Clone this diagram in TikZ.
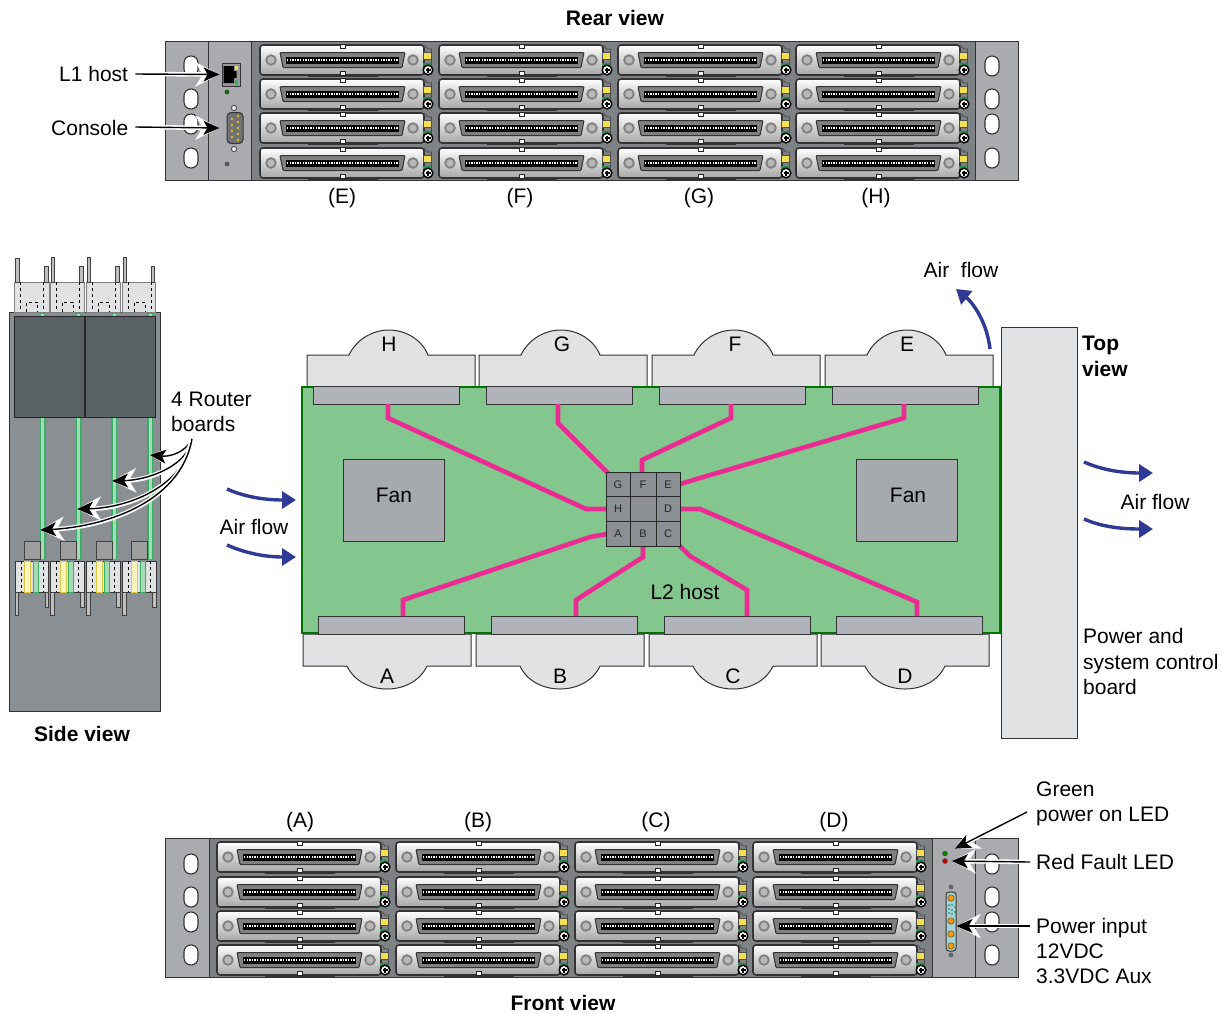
\documentclass[tikz,border=0pt]{standalone}
\usepackage{fontspec}
\setmainfont{Liberation Sans}
\usetikzlibrary{arrows.meta}
\definecolor{ear}{HTML}{A9ABAE}
\definecolor{midg}{HTML}{7F8285}
\definecolor{edge}{HTML}{333333}
\definecolor{cardg}{HTML}{E1E2E4}
\definecolor{stripg}{HTML}{A7AAAD}
\definecolor{stript}{HTML}{B0B3BA}
\definecolor{boardg}{HTML}{83C78F}
\definecolor{pinkt}{HTML}{EC2A94}
\definecolor{bluea}{HTML}{2F3A96}
\definecolor{darkb}{HTML}{5A6164}
\definecolor{sideg}{HTML}{8A8F94}
\definecolor{greenb}{HTML}{35B066}
\definecolor{lgreen}{HTML}{A9D9B5}
\definecolor{yel}{HTML}{F4E04D}
\tikzset{
  lab/.style={inner sep=0pt,font=\fontsize{21}{25.3}\selectfont},
  bold/.style={lab,font=\fontsize{21}{25.3}\selectfont\bfseries},
  chiplab/.style={inner sep=0pt,text=black!85,font=\fontsize{11}{13}\selectfont},
  wire/.style={draw=pinkt,line width=4.6pt,line join=miter},
  halo/.style={line width=1.4pt,-{Stealth[length=16pt,width=14pt,inset=4pt]},
    preaction={draw=white,line width=4.5pt,-{Stealth[length=24pt,width=24pt,inset=7pt]}}},
  flow/.style={draw=bluea,line width=3.4pt,-{Stealth[length=14pt,width=17pt,inset=0pt]}},
  ln/.style={draw=edge,line width=1pt},
  cardbox/.style={draw=edge,line width=1pt,fill=cardg},
}
\newcommand{\earslot}[2]{\draw[edge,line width=1.1pt,fill=white,rounded corners=6.8pt] (#1-7,#2-10) rectangle (#1+7,#2+10);}
\newcommand{\ioslot}[2]{%
\begin{scope}[shift={(#1,#2)}]
\fill[black!80] (48,-1.5) rectangle (118,1.5);
\fill[black!80] (48,28.5) rectangle (118,31.5);
\draw[edge,line width=1.6pt,rounded corners=3pt,top color=white,bottom color=black!35] (0,0) rectangle (164,30);
\fill[white,draw=black!85,line width=.6pt] (80,-.5) rectangle (85,3);
\fill[white,draw=black!85,line width=.6pt] (80,26) rectangle (85,30.5);
\draw[black!50,fill=black!28,line width=1.8pt] (11,15) circle (4.8);
\draw[black!50,fill=black!28,line width=1.8pt] (153,15) circle (4.8);
\draw[edge,fill=black!50,line width=1pt,rounded corners=1pt] (20,7.5) -- (145,7.5) -- (142,22.5) -- (23,22.5) -- cycle;
\fill[black] (26,11.5) rectangle (139,18.5);
\draw[white,line width=1.5pt,dash pattern=on 1.3pt off 1.3pt] (27,15) -- (138,15);
\fill[yel,draw=black!70,line width=.6pt] (163,7.5) rectangle (171,14.5);
\fill[greenb!80!black] (163,18) rectangle (171,20.5);
\draw[black!70,line width=.8pt] (164,0) -- (168,4) -- (171.5,4) -- (171.5,20);
\draw[black,fill=white,line width=1.5pt] (168,25) circle (4.8);
\draw[black,line width=1.2pt] (165.5,25) -- (170.5,25) (168,22.5) -- (168,27.5);
\end{scope}}
\newcommand{\topcard}[1]{\draw[cardbox] (#1,387) -- (#1,355) -- (#1+42,355) .. controls (#1+49,340) and (#1+65,330) .. (#1+82,330) .. controls (#1+99,330) and (#1+115,340) .. (#1+121,355) -- (#1+168,355) -- (#1+168,387) -- cycle;}
\newcommand{\botcard}[1]{\draw[cardbox] (#1,634) -- (#1,666) -- (#1+44,666) .. controls (#1+51,681) and (#1+67,689) .. (#1+84,689) .. controls (#1+101,689) and (#1+117,681) .. (#1+124,666) -- (#1+168,666) -- (#1+168,634) -- cycle;}
\newcommand{\sidetop}[4]{%
\fill[cardg,draw=black!50,line width=.4pt] (#1,282) rectangle (#1+#2,312);
\draw[black,line width=.6pt,dash pattern=on 3pt off 3pt] (#1+6,282) -- (#1+6,312) (#1+29,282) -- (#1+29,312) (#1+12,312) -- (#1+12,302) -- (#1+23,302) -- (#1+23,312);
\fill[black!25,draw=black!75,line width=.8pt] (#1+1,#3) rectangle (#1+4.5,282);
\fill[black!25,draw=black!75,line width=.8pt] (#1+#2-4.5,#4) rectangle (#1+#2-1,282);}
\newcommand{\sidebot}[4]{%
\fill[black!38,draw=black!75,line width=.6pt] (#2,541) rectangle (#2+16,559);
\fill[cardg,draw=black!80,line width=.6pt] (#1,561) rectangle (#1+33.5,592);
\draw[black,line width=.6pt,dash pattern=on 3pt off 3pt] (#1+6,561) -- (#1+6,592) (#1+28,561) -- (#1+28,592);
\fill[yel!35,draw=yel!90!black,line width=1pt] (#3,561) rectangle (#3+6,592);
\fill[lgreen,draw=greenb,line width=1pt] (#4,561) rectangle (#4+5,592);
\fill[black!25,draw=black!75,line width=.8pt] (#1,592) rectangle (#1+3.5,615);
\fill[black!25,draw=black!75,line width=.8pt] (#1+30,592) rectangle (#1+33.5,607);}
\begin{document}
\begin{tikzpicture}[x=1pt,y=-1pt]
\useasboundingbox (0,0) rectangle (1222,1013);
\fill[white] (0,0) rectangle (1222,1013);

%%% Rear view
\fill[ear] (165,41) rectangle (1018,180);
\fill[midg] (251,41) rectangle (975,180);
\draw[ln] (165,41) rectangle (1018,180);
\draw[ln] (208,41) -- (208,180) (251,41) -- (251,180) (975,41) -- (975,180);
\foreach \y in {66,99,124,158} {\earslot{191}{\y}\earslot{992}{\y}}
\foreach \x in {260,439,618,796} \foreach \y in {45,79,113,148} {\ioslot{\x}{\y}}
\node[draw=black!80,fill=black!40,line width=.8pt,minimum width=18pt,minimum height=23pt,inner sep=0pt] (rj) at (231,74.5) {};
\fill[black] (223.5,66) rectangle (234,83) (234,71) rectangle (236.5,78);
\fill[yel] (235,65.5) rectangle (238,70);
\fill[greenb] (235,80) rectangle (238,85);
\fill[green!45!black,draw=black!70,line width=.4pt] (227,92) circle (2.2);
\draw[black!70,fill=white,line width=1pt] (234,108) circle (2.6);
\draw[black!70,fill=white,line width=1pt] (234,149) circle (2.6);
\node[draw=edge,fill=black!55,line width=1pt,rounded corners=4pt,minimum width=16pt,minimum height=31pt,inner sep=0pt] (db) at (235,128) {};
\foreach \y in {116,122,128,134,140} {\fill[yellow!70!orange] (238,\y) circle (1.1);}
\foreach \y in {119,125,131,137} {\fill[yellow!70!orange] (232,\y) circle (1.1);}
\fill[black!65] (227,164) circle (2.4);

\node[bold] (rearlab) at (615,18) {Rear view};
\node[lab,anchor=west] (l1) at (59,74) {L1 host};
\node[lab,anchor=west] (con) at (51,128) {Console};
\node[lab] (e1) at (342,198) {(E)};
\node[lab] (f1) at (520,198) {(F)};
\node[lab] (g1) at (699,198) {(G)};
\node[lab] (h1) at (876,198) {(H)};
\draw[halo] (l1.east)+(7,0) -- ([xshift=-2pt]rj.west);
\draw[halo] (con.east)+(7,-1) -- ([xshift=-7pt]db.west);

%%% Side view
\fill[sideg,draw=edge,line width=1pt] (9,312) rectangle (160,711);
\foreach \x in {40.5,76.5,112,148} {\fill[lgreen] (\x,314) rectangle (\x+4.5,559);
  \draw[greenb,line width=1.2pt] (\x,314) -- (\x,559) (\x+4.5,314) -- (\x+4.5,559);}
\fill[darkb,draw=black!85,line width=.6pt] (14,316) rectangle (84.5,417.5);
\fill[darkb,draw=black!85,line width=.6pt] (85.5,316) rectangle (155.5,417.5);
\sidetop{14.5}{34.5}{258}{266}
\sidetop{50}{34}{257.5}{266}
\sidetop{86}{34}{257.5}{266}
\sidetop{122}{33.5}{257}{266}
\sidebot{15}{24}{24}{33}
\sidebot{50.5}{60}{60}{68}
\sidebot{86.5}{96}{96}{104}
\sidebot{122.5}{131}{131}{140}
\node[lab,anchor=west,align=left] (boards) at (171,412) {4 Router\\boards};
\node[bold] (sidelab) at (82,734) {Side view};
\coordinate (bsrc) at (192,439);
\coordinate (b1) at (150,455);
\coordinate (b2) at (112,481);
\coordinate (b3) at (77,509);
\coordinate (b4) at (40,530);
\draw[halo] (bsrc) .. controls (186,452) and (170,457) .. (b1);
\draw[halo] (bsrc) .. controls (188,465) and (150,480) .. (b2);
\draw[halo] (bsrc) .. controls (185,485) and (130,508) .. (b3);
\draw[halo] (bsrc) .. controls (180,505) and (100,527) .. (b4);

%%% Top view
\topcard{307}\topcard{479}\topcard{652}\topcard{825}
\botcard{303}\botcard{476}\botcard{649}\botcard{821}
\fill[boardg,draw=black!55!green,line width=1.2pt] (302,387) rectangle (1000,633);
\foreach \x in {313,486,659,832} {\fill[stript,draw=edge,line width=1pt] (\x,386) rectangle (\x+146,404);}
\foreach \x in {318,491,664,836} {\fill[stript,draw=edge,line width=1pt] (\x,616) rectangle (\x+146,634);}
\fill[stripg,draw=edge,line width=.7pt] (343,459) rectangle (444,541);
\fill[stripg,draw=edge,line width=.7pt] (856,459) rectangle (957,541);
\path[wire] (388,404) -- (388,418) -- (586,509) -- (607,509);
\path[wire] (558,404) -- (558,423) -- (608,473);
\path[wire] (731,404) -- (731,418) -- (642,460) -- (642,473);
\path[wire] (904,404) -- (904,418) -- (700,478) -- (680,484);
\path[wire] (680,509) -- (700,509) -- (917,602) -- (917,616);
\path[wire] (679,545) -- (690,556) -- (747,590) -- (747,616);
\path[wire] (643,545) -- (643,557) -- (576,600) -- (576,616);
\path[wire] (607,534) -- (590,537) -- (403,600) -- (403,616);
\node[draw=black!85,fill=sideg,line width=1pt,minimum width=74pt,minimum height=74pt,inner sep=0pt] (chip) at (643.5,509) {};
\draw[black!85,line width=1pt] (630.5,472) -- (630.5,546) (656,472) -- (656,546) (606.5,496) -- (680.5,496) (606.5,521) -- (680.5,521);
\foreach \t/\x/\y in {G/618/484.5,F/643/484.5,E/668/484.5,H/618/509,D/668/509,A/618/533.5,B/643/533.5,C/668/533.5}
  {\node[chiplab] (chip\t) at (\x,\y) {\t};}
\draw[cardbox] (1001,327) rectangle (1077,738);
\node[lab] (lh) at (389,344.5) {H};
\node[lab] (lg) at (562,344.5) {G};
\node[lab] (lf) at (735,344.5) {F};
\node[lab] (le) at (907,344.5) {E};
\node[lab] (la) at (387,676.5) {A};
\node[lab] (lb) at (560,676.5) {B};
\node[lab] (lc) at (733,676.5) {C};
\node[lab] (ld) at (905,676.5) {D};
\node[lab] (fan1) at (394,495) {Fan};
\node[lab] (fan2) at (908,495) {Fan};
\node[lab] (l2) at (685,591.5) {L2 host};
\node[lab] (afl) at (254,527) {Air flow};
\node[lab] (aft) at (961,270) {Air\ \ flow};
\node[lab] (afr) at (1155,502) {Air flow};
\node[bold,anchor=west,align=left] (toplab) at (1082,356.5) {Top\\view};
\node[lab,anchor=west,align=left] (psb) at (1083,661.5) {Power and\\system control\\board};
\coordinate (a1s) at (227,489); \coordinate (a1e) at (296,500);
\coordinate (a2s) at (227,545); \coordinate (a2e) at (296,557);
\coordinate (a3s) at (1084,462); \coordinate (a3e) at (1153,473);
\coordinate (a4s) at (1084,519); \coordinate (a4e) at (1153,529);
\coordinate (a5s) at (990,349); \coordinate (a5e) at (956,289);
\draw[flow] (a1s) .. controls (245,497) and (265,500) .. (a1e);
\draw[flow] (a2s) .. controls (245,553) and (265,557) .. (a2e);
\draw[flow] (a3s) .. controls (1102,470) and (1122,473) .. (a3e);
\draw[flow] (a4s) .. controls (1102,527) and (1122,529) .. (a4e);
\draw[flow] (a5s) .. controls (987,322) and (973,303) .. (a5e);

%%% Front view
\fill[ear] (165,838) rectangle (1018,977);
\fill[midg] (209,838) rectangle (932,977);
\draw[ln] (165,838) rectangle (1018,977);
\draw[ln] (209,838) -- (209,977) (932,838) -- (932,977) (975,838) -- (975,977);
\foreach \y in {864,897,922,955} {\earslot{191}{\y}\earslot{992}{\y}}
\foreach \x in {217,396,575,753} \foreach \y in {842,877,911,945} {\ioslot{\x}{\y}}
\node[circle,fill=green!50!black,draw=black!70,line width=.4pt,minimum size=5pt,inner sep=0pt] (gled) at (945,853.5) {};
\node[circle,fill=red!75!black,draw=black!70,line width=.4pt,minimum size=5pt,inner sep=0pt] (rled) at (945,861) {};
\fill[black!60] (951,887) circle (2.4) (951,955) circle (2.4);
\node[draw=edge,fill=teal!35!white,line width=1pt,rounded corners=3pt,minimum width=10pt,minimum height=59pt,inner sep=0pt] (pwr) at (951,921.5) {};
\foreach \y in {898,921,934,946} {\fill[orange!80!yellow,draw=black!70,line width=.5pt] (951,\y) circle (3.2);}
\foreach \x/\y in {949/905,952/905,955/907,949/909,952/910,955/912,949/913,952/914} {\fill[teal] (\x,\y) circle (.9);}
\node[lab] (a0) at (300,822) {(A)};
\node[lab] (b0) at (478,822) {(B)};
\node[lab] (c0) at (656,822) {(C)};
\node[lab] (d0) at (834,822) {(D)};
\node[bold] (frontlab) at (563,1003) {Front view};
\node[lab,anchor=west,align=left] (glab) at (1036,803.5) {Green\\power on LED};
\node[lab,anchor=west] (rlab) at (1036,862) {Red Fault LED};
\node[lab,anchor=west,align=left] (plab) at (1036,951) {Power input\\12VDC\\3.3VDC Aux};
\coordinate (gsrc) at (1027,812);
\coordinate (rsrc) at (1030,862);
\coordinate (psrc) at (1030,926);
\draw[halo] (gsrc) -- ([xshift=8pt,yshift=3pt]gled.north east);
\draw[halo] (rsrc) -- ([xshift=4pt]rled.east);
\draw[halo] (psrc) -- (pwr.east |- psrc);
\end{tikzpicture}
\end{document}
